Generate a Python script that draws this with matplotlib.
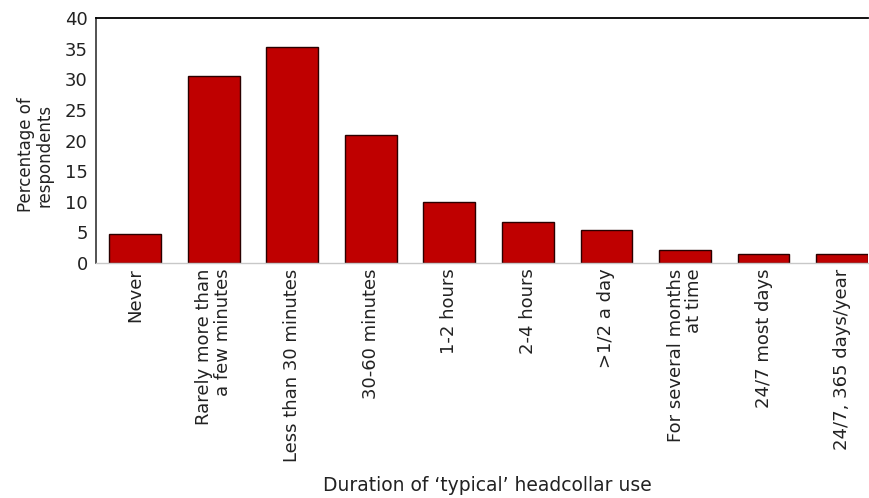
import matplotlib.pyplot as plt

categories = ["Never", "Rarely more than\na few minutes", "Less than 30 minutes",
              "30-60 minutes", "1-2 hours", "2-4 hours", ">1/2 a day",
              "For several months\nat time", "24/7 most days", "24/7, 365 days/year"]
percent = [4.7, 30.5, 35.2, 20.9, 10.0, 6.7, 5.4, 2.1, 1.5, 1.5]
yticks = [0, 5, 10, 15, 20, 25, 30, 35, 40]

plt.rcParams['font.family'] = ['DejaVu Sans']

fig = plt.figure(figsize=(8.7, 4.98), dpi=100)
ax = fig.add_axes([96/870, 1-263/498, (868-96)/870, (263-18)/498])

x = list(range(len(categories)))
ax.bar(x, percent, width=0.66, color='#BF0000', edgecolor='#2a0000', linewidth=1.0, zorder=2)

ax.set_xlim(-0.5, 9.33)
ax.set_ylim(0, 40)
ax.set_yticks(yticks)
ax.set_yticklabels([str(v) for v in yticks], fontsize=13, color='#222222')
ax.set_xticks(x)
ax.set_xticklabels(categories, rotation=90, fontsize=13, color='#222222',
                   va='top', ha='center', multialignment='right', linespacing=1.05)
ax.tick_params(axis='both', length=0, pad=4)
ax.tick_params(axis='y', pad=6)

ax.spines['right'].set_visible(False)
ax.spines['top'].set_color('black')
ax.spines['top'].set_linewidth(1.3)
ax.spines['left'].set_color('#444444')
ax.spines['left'].set_linewidth(1.3)
ax.spines['bottom'].set_color('#c8c8c8')
ax.spines['bottom'].set_linewidth(1.0)

fig.text(35/870, 1-155/498, "Percentage of\nrespondents", fontsize=12, color='#222222',
         rotation=90, ha='center', va='center', multialignment='center', linespacing=1.05)
fig.text(487/870, 1-485/498, "Duration of \u2018typical\u2019 headcollar use",
         fontsize=13.5, color='#222222', ha='center', va='center')

fig.savefig('out.png', dpi=100)
